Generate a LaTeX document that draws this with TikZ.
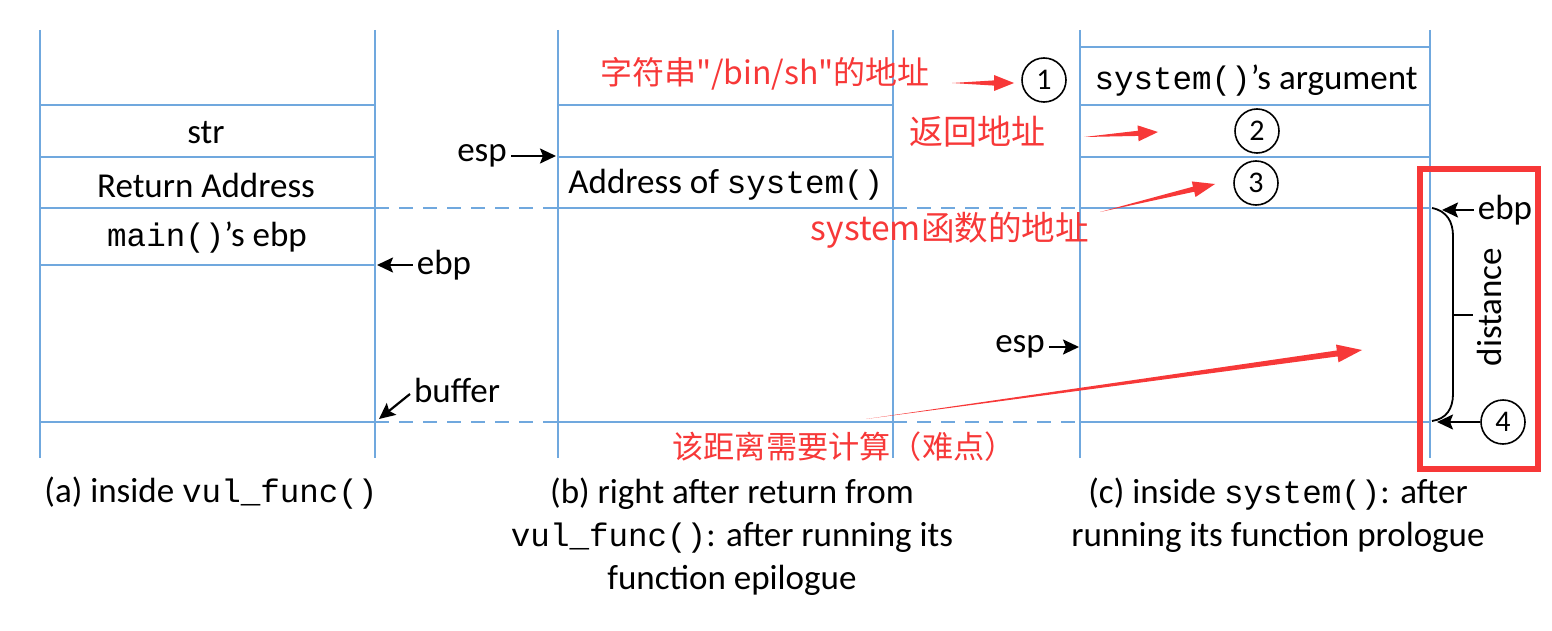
\documentclass[tikz,border=0pt]{standalone}
\usepackage{fontspec}
\setmainfont{Carlito}
\setmonofont{Liberation Mono}[Scale=0.93]
\newfontfamily\cjk{Noto Sans CJK SC}
\usetikzlibrary{arrows.meta,calc}
\definecolor{stackblue}{RGB}{112,168,222}
\definecolor{hlred}{RGB}{247,56,56}
\tikzset{
 sl/.style={draw=stackblue, line width=1.4pt},
 dl/.style={draw=stackblue, line width=1.4pt, dash pattern=on 7pt off 5pt},
 lbl/.style={font=\fontsize{17.5}{21.5}\selectfont, inner sep=2pt},
 redlbl/.style={text=hlred, font=\cjk\fontsize{16}{19}\selectfont, inner sep=1pt},
 num/.style={circle, draw=black, line width=0.8pt, minimum size=22pt, inner sep=0pt, font=\fontsize{15}{15}\selectfont},
 blk/.style={-{Stealth[length=8pt,width=7.5pt,inset=1.5pt]}, line width=1.1pt},
}
% #1 tail, #2 tip, #3 head length, #4 head half width, #5 shaft half width
\newcommand{\taperarrow}[5]{%
 \path ($(#2)!#3!(#1)$) coordinate (hb);
 \fill[hlred] (#1) -- ($(hb)!#5!90:(#2)$) -- ($(hb)!#4!90:(#2)$) -- (#2)
   -- ($(hb)!#4!-90:(#2)$) -- ($(hb)!#5!-90:(#2)$) -- cycle;}
\begin{document}
\begin{tikzpicture}[x=0.5pt,y=-0.5pt]
\useasboundingbox (0,0) rectangle (1552,631);
% columns
\foreach \x in {40,375,558,893,1080,1430} \draw[sl] (\x,30) -- (\x,458);
\foreach \y in {105,157,208,265,422} \draw[sl] (40,\y) -- (375,\y);
\foreach \y in {105,157,208,422} \draw[sl] (558,\y) -- (893,\y);
\foreach \y in {47,105,157,208,422} \draw[sl] (1080,\y) -- (1430,\y);
\foreach \y in {208,422} {\draw[dl] (375,\y) -- (558,\y); \draw[dl] (893,\y) -- (1080,\y);}
% cell texts
\node[lbl] (str) at (206,133) {str};
\node[lbl] (ret) at (206,185) {Return Address};
\node[lbl] (mainebp) at (207,238) {\texttt{main()}’s ebp};
\node[lbl, anchor=west] (addrsys) at (564,185) {Address of \texttt{system()}};
\node[lbl] (sysarg) at (1256,81) {\texttt{system()}’s argument};
% captions
\node[lbl] (capa) at (211,493) {(a) inside \texttt{vul\_func()}};
\node[lbl, align=center] (capb) at (732,537) {(b) right after return from\\\texttt{vul\_func()}: after running its\\function epilogue};
\node[lbl, align=center] (capc) at (1278,515) {(c) inside \texttt{system()}: after\\running its function prologue};
% pointer labels
\node[lbl] (ebpa) at (444,265) {ebp};
\coordinate (ebpat) at (377,265);
\draw[blk] (ebpa.west) -- (ebpat);
\node[lbl] (buf) at (457,390) {buffer};
\coordinate (buft) at (410,394);
\coordinate (bufat) at (379,419);
\draw[blk] (buft) -- (bufat);
\node[lbl] (espb) at (482,156) {esp};
\coordinate (espbat) at (556,156);
\draw[blk] (espb.east) -- (espbat);
\node[lbl] (espc) at (1020,347) {esp};
\coordinate (espcat) at (1079,347);
\draw[blk] (espc.east) -- (espcat);
\node[lbl] (ebpc) at (1505,210) {ebp};
\coordinate (ebpcat) at (1442,210);
\draw[blk] (ebpc.west) -- (ebpcat);
% circled numbers
\node[num] (c1) at (1044,80) {1};
\node[num] (c2) at (1257,131) {2};
\node[num] (c3) at (1256,183) {3};
\node[num] (c4) at (1503,422) {4};
\coordinate (c4at) at (1437,422);
\draw[blk] (c4.west) -- (c4at);
% brace and distance
\draw[line width=0.9pt] (1432,208) .. controls (1447,211) and (1453,222) .. (1453,236) -- (1453,394) .. controls (1453,409) and (1446,419) .. (1432,421);
\draw[line width=0.9pt] (1453,315) -- (1473,315);
\node[lbl, rotate=90] (dist) at (1489,307) {distance};
% red annotations
\node[redlbl] (t1) at (765,74) {字符串"/bin/sh"的地址};
\node[redlbl, font=\cjk\fontsize{17}{20}\selectfont] (t2) at (977,132) {返回地址};
\node[redlbl, font=\cjk\fontsize{16.8}{20}\selectfont] (t3) at (950,230) {system函数的地址};
\node[redlbl, font=\cjk\fontsize{15.6}{18}\selectfont] (t4) at (844,447) {该距离需要计算（难点）};
\coordinate (a1s) at (952,83); \coordinate (a1e) at (1014,83);
\coordinate (a2s) at (1084,137); \coordinate (a2e) at (1158,132);
\coordinate (a3s) at (1100,212); \coordinate (a3e) at (1215,184);
\coordinate (a4s) at (866,419); \coordinate (a4e) at (1362,350);
\taperarrow{a1s}{a1e}{10pt}{4pt}{1.3pt}
\taperarrow{a2s}{a2e}{10pt}{4pt}{1.3pt}
\taperarrow{a3s}{a3e}{11pt}{4pt}{1.3pt}
\taperarrow{a4s}{a4e}{12.5pt}{4.5pt}{1.5pt}
% highlight box
\draw[hlred, line width=2.6pt] (1420,169) rectangle (1538,469);
\end{tikzpicture}
\end{document}
